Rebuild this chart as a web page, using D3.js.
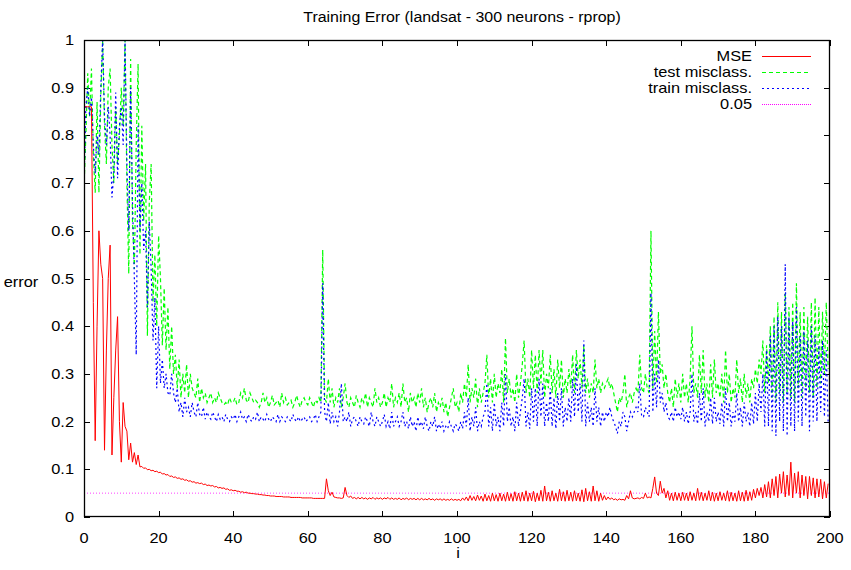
<!DOCTYPE html>
<html><head><meta charset="utf-8">
<script src="https://cdn.jsdelivr.net/npm/d3@7"></script>
<style>
html,body{margin:0;padding:0;background:#fff;}
text{font-family:"Liberation Sans",Arial,Helvetica,sans-serif;}
</style></head>
<body><svg id="chart" width="851" height="570"></svg>
<script>
const title = "Training Error (landsat - 300 neurons - rprop)";
const xTicks = [0,20,40,60,80,100,120,140,160,180,200];
const yTicks = [0,0.1,0.2,0.3,0.4,0.5,0.6,0.7,0.8,0.9,1];
const yTickLabels = ["0","0.1","0.2","0.3","0.4","0.5","0.6","0.7","0.8","0.9","1"];
const seriesNames = ["MSE","test misclass.","train misclass.","0.05"];
const threshold = 0.05;
const step = 0.5; // samples every half unit of i

const mse = [
.86,.86,.86,.86,.86,.45,.16,.40,.60,.53,.50,.14,.35,.50,.57,.13,.25,.35,.42,.20,
.115,.24,.19,.18,.12,.155,.115,.135,.11,.13,.105,.106,.102,.103,.099,.1,.097,.098,.095,.096,
.093,.094,.09,.091,.088,.089,.085,.086,.083,.084,.081,.082,.079,.08,.077,.078,.075,.076,.073,.074,
.071,.072,.07,.071,.068,.069,.066,.067,.065,.066,.063,.064,.061,.062,.06,.061,.058,.059,.056,.057,
.055,.056,.054,.054,.052,.053,.051,.052,.05,.05,.049,.049,.048,.048,.047,.047,.046,.046,.045,.045,
.044,.044,.044,.043,.043,.043,.043,.042,.042,.042,.042,.041,.041,.041,.041,.041,.041,.04,.04,.04,
.04,.04,.04,.039,.039,.039,.039,.039,.039,.039,.08,.055,.045,.052,.042,.041,.04,.04,.039,.04,
.062,.045,.041,.044,.039,.041,.038,.041,.038,.041,.038,.04,.037,.04,.038,.041,.037,.04,.038,.04,
.037,.04,.038,.041,.037,.04,.037,.039,.037,.04,.036,.039,.037,.04,.036,.039,.037,.039,.036,.039,
.036,.039,.036,.038,.036,.039,.036,.038,.035,.038,.036,.038,.035,.038,.035,.037,.035,.038,.035,.037,
.035,.037,.034,.04,.035,.042,.034,.045,.035,.043,.034,.046,.035,.044,.033,.048,.034,.045,.033,.05,
.034,.047,.033,.05,.034,.048,.033,.052,.034,.049,.033,.053,.034,.05,.033,.052,.034,.055,.033,.05,
.034,.054,.032,.05,.034,.056,.033,.065,.034,.052,.033,.055,.034,.05,.033,.058,.034,.053,.033,.056,
.034,.052,.033,.055,.034,.05,.033,.057,.032,.06,.034,.053,.033,.065,.034,.055,.033,.05,.035,.045,
.036,.042,.037,.04,.036,.038,.035,.038,.036,.037,.035,.045,.038,.055,.04,.038,.039,.04,.038,.041,
.039,.05,.04,.042,.04,.06,.084,.05,.045,.075,.05,.06,.04,.055,.035,.05,.034,.052,.035,.05,
.034,.052,.035,.05,.034,.053,.035,.05,.034,.06,.035,.052,.034,.05,.035,.055,.034,.052,.033,.05,
.034,.053,.035,.05,.034,.055,.033,.052,.034,.05,.033,.055,.034,.052,.033,.056,.034,.053,.035,.058,
.04,.06,.045,.062,.04,.068,.042,.074,.04,.08,.045,.085,.04,.09,.05,.095,.042,.088,.045,.115,
.04,.092,.05,.095,.04,.088,.045,.085,.038,.085,.045,.082,.04,.08,.042,.079,.038,.074,.04,.07
];

const testMis = [
.69,.80,.93,.84,.94,.76,.68,.87,.68,.88,1.0,.82,.74,.90,.94,.78,.70,.86,.74,.80,
.90,.82,1.0,.70,.51,.96,.62,.52,.78,.95,.55,.82,.62,.74,.38,.66,.74,.45,.55,.40,
.59,.50,.36,.48,.35,.44,.31,.40,.30,.34,.27,.33,.25,.30,.26,.32,.25,.30,.27,.26,
.25,.29,.24,.27,.25,.26,.24,.25,.26,.24,.25,.24,.26,.25,.24,.235,.24,.235,.25,.24,
.24,.25,.235,.24,.26,.25,.27,.245,.24,.26,.25,.24,.245,.24,.23,.24,.26,.24,.25,.23,
.24,.255,.235,.24,.245,.23,.26,.24,.25,.235,.24,.245,.23,.24,.255,.24,.23,.245,.25,.24,
.235,.25,.24,.23,.245,.24,.25,.24,.56,.25,.24,.29,.24,.27,.23,.25,.24,.27,.23,.25,
.28,.24,.23,.25,.24,.23,.255,.24,.23,.25,.24,.26,.23,.25,.24,.23,.27,.24,.25,.23,
.24,.26,.23,.25,.24,.28,.23,.25,.24,.26,.23,.28,.24,.25,.22,.26,.24,.25,.23,.26,
.24,.27,.23,.25,.22,.24,.25,.23,.26,.22,.24,.23,.25,.22,.24,.21,.23,.25,.27,.23,
.24,.22,.26,.24,.28,.25,.32,.24,.27,.25,.29,.23,.27,.24,.26,.28,.34,.25,.29,.24,
.30,.25,.28,.26,.31,.24,.375,.26,.29,.25,.27,.24,.30,.25,.28,.32,.37,.26,.29,.25,
.35,.27,.34,.26,.35,.28,.35,.25,.30,.27,.34,.26,.31,.25,.33,.27,.33,.25,.29,.26,
.31,.27,.34,.26,.35,.29,.33,.27,.36,.26,.29,.25,.28,.26,.33,.27,.29,.26,.28,.27,
.28,.29,.27,.28,.26,.24,.22,.25,.24,.26,.30,.23,.25,.26,.24,.26,.27,.26,.34,.27,
.26,.30,.27,.26,.60,.27,.39,.28,.43,.30,.32,.27,.30,.26,.24,.27,.23,.29,.25,.28,
.24,.30,.25,.28,.24,.29,.40,.26,.28,.25,.34,.26,.35,.25,.28,.24,.32,.25,.33,.26,
.28,.25,.30,.24,.35,.26,.30,.24,.27,.25,.33,.26,.29,.24,.30,.25,.28,.24,.29,.27,
.31,.28,.33,.30,.37,.26,.36,.28,.40,.25,.42,.24,.45,.26,.43,.24,.47,.26,.44,.25,
.45,.24,.49,.27,.43,.25,.44,.27,.42,.26,.45,.25,.46,.27,.44,.28,.43,.30,.45,.31
];

const trainMis = [
.70,.86,.90,.84,.88,.78,.72,.80,.76,.90,1.0,.84,.78,.86,.80,.67,.72,.89,.71,.82,
.86,.78,1.0,.74,.60,.90,.66,.50,.34,.82,.60,.70,.56,.60,.44,.62,.52,.37,.46,.27,
.40,.28,.33,.27,.30,.26,.255,.30,.26,.24,.27,.22,.24,.21,.25,.22,.23,.21,.24,.22,
.21,.24,.215,.21,.23,.205,.22,.21,.205,.22,.21,.20,.215,.205,.21,.20,.215,.205,.20,.21,
.205,.215,.20,.21,.22,.205,.21,.20,.215,.205,.20,.21,.205,.22,.20,.21,.205,.20,.215,.205,
.20,.21,.205,.20,.215,.20,.21,.205,.20,.21,.205,.20,.215,.205,.20,.21,.20,.205,.21,.20,
.205,.21,.20,.205,.215,.20,.21,.22,.49,.22,.20,.24,.195,.22,.20,.21,.19,.22,.28,.20,
.21,.20,.22,.19,.205,.21,.20,.19,.21,.20,.195,.21,.20,.19,.22,.20,.19,.21,.20,.19,
.20,.215,.19,.20,.185,.22,.19,.20,.21,.19,.20,.22,.19,.20,.185,.21,.19,.20,.18,.21,
.19,.20,.185,.21,.19,.18,.20,.19,.21,.18,.195,.185,.20,.18,.19,.185,.20,.19,.18,.195,
.19,.18,.20,.185,.22,.19,.25,.18,.21,.19,.23,.18,.20,.19,.21,.22,.28,.19,.23,.18,
.24,.19,.21,.18,.24,.19,.30,.20,.23,.19,.21,.18,.24,.19,.22,.25,.29,.19,.22,.185,
.27,.20,.27,.19,.29,.21,.28,.19,.24,.20,.27,.19,.25,.185,.26,.20,.27,.19,.23,.20,
.25,.20,.29,.21,.32,.22,.28,.20,.37,.19,.24,.20,.23,.19,.27,.20,.23,.19,.22,.20,
.22,.21,.23,.21,.20,.19,.175,.20,.19,.22,.21,.18,.20,.22,.21,.22,.23,.22,.28,.21,
.21,.23,.22,.21,.47,.22,.30,.23,.33,.24,.26,.22,.24,.21,.205,.22,.20,.23,.21,.22,
.205,.23,.20,.22,.195,.22,.30,.20,.22,.195,.26,.20,.27,.19,.22,.20,.25,.195,.25,.20,
.22,.195,.24,.19,.27,.20,.24,.19,.22,.20,.26,.20,.23,.19,.24,.20,.22,.19,.24,.195,
.26,.20,.28,.22,.30,.19,.35,.19,.38,.18,.40,.17,.42,.20,.40,.18,.53,.17,.42,.19,
.41,.18,.44,.20,.38,.19,.39,.21,.37,.18,.40,.20,.38,.20,.36,.22,.37,.21,.35,.20
];

const pLeft = 84, pRight = 830, pTop = 40, pBottom = 517;
const FS = 14.5, SX = 1.13;
const svg = d3.select("#chart");
const x = d3.scaleLinear().domain([0,200]).range([pLeft,pRight]);
const y = d3.scaleLinear().domain([0,1]).range([pBottom,pTop]);

// horizontally stretched text (reference is a non-uniformly scaled raster)
function label(px, py, str, anchor, sx){
  svg.append("text")
    .attr("transform",`translate(${px},${py}) scale(${sx||SX},1)`)
    .attr("text-anchor",anchor).attr("font-size",FS).attr("fill","#000").text(str);
}

svg.append("defs").append("clipPath").attr("id","clip")
  .append("rect").attr("x",pLeft).attr("y",pTop-1).attr("width",pRight-pLeft).attr("height",pBottom-pTop+1);

label((pLeft+pRight)/2+5, 22, title, "middle", 1.1);
label(21, 287, "error", "middle");
label((pLeft+pRight)/2+1, 558, "i", "middle");

const tk = svg.append("g").attr("stroke","#000").attr("stroke-width",1);
xTicks.forEach(t=>{
  const px = Math.round(x(t))+0.5;
  tk.append("line").attr("x1",px).attr("x2",px).attr("y1",pBottom).attr("y2",pBottom-6);
  tk.append("line").attr("x1",px).attr("x2",px).attr("y1",pTop).attr("y2",pTop+6);
  label(x(t), 543, String(t), "middle");
});
yTicks.forEach((t,k)=>{
  const py = Math.round(y(t))+0.5;
  tk.append("line").attr("x1",pLeft).attr("x2",pLeft+6).attr("y1",py).attr("y2",py);
  tk.append("line").attr("x1",pRight).attr("x2",pRight-6).attr("y1",py).attr("y2",py);
  label(74, y(t)+5, yTickLabels[k], "end");
});

const plot = svg.append("g").attr("clip-path","url(#clip)");
const line = d3.line().x((d,k)=>x(k*step)).y(d=>y(d));

plot.append("line").attr("x1",x(0)).attr("x2",x(200)).attr("y1",y(threshold)).attr("y2",y(threshold))
  .attr("stroke","#ff00ff").attr("stroke-width",1).attr("stroke-dasharray","1,2").attr("opacity",0.75);

plot.append("path").datum(testMis).attr("d",line).attr("fill","none")
  .attr("stroke","#00ff00").attr("stroke-width",1.2).attr("stroke-dasharray","4,3");
plot.append("path").datum(trainMis).attr("d",line).attr("fill","none")
  .attr("stroke","#0000ff").attr("stroke-width",1.2).attr("stroke-dasharray","2,3");
plot.append("path").datum(mse).attr("d",line).attr("fill","none")
  .attr("stroke","#ff0000").attr("stroke-width",1);

svg.append("rect").attr("x",pLeft+0.5).attr("y",pTop+0.5).attr("width",pRight-pLeft-1).attr("height",pBottom-pTop-1)
  .attr("fill","none").attr("stroke","#000").attr("stroke-width",1.3);

const legStyles = [
  {c:"#ff0000",d:null},
  {c:"#00ff00",d:"4,3"},
  {c:"#0000ff",d:"2,3"},
  {c:"#ff00ff",d:"1,1"}
];
seriesNames.forEach((n,k)=>{
  const yy = 56 + k*16;
  label(752, yy+5, n, "end");
  svg.append("line").attr("x1",762).attr("x2",811).attr("y1",yy+0.5).attr("y2",yy+0.5)
    .attr("stroke",legStyles[k].c).attr("stroke-width",1)
    .attr("stroke-dasharray",legStyles[k].d);
});
</script></body></html>
